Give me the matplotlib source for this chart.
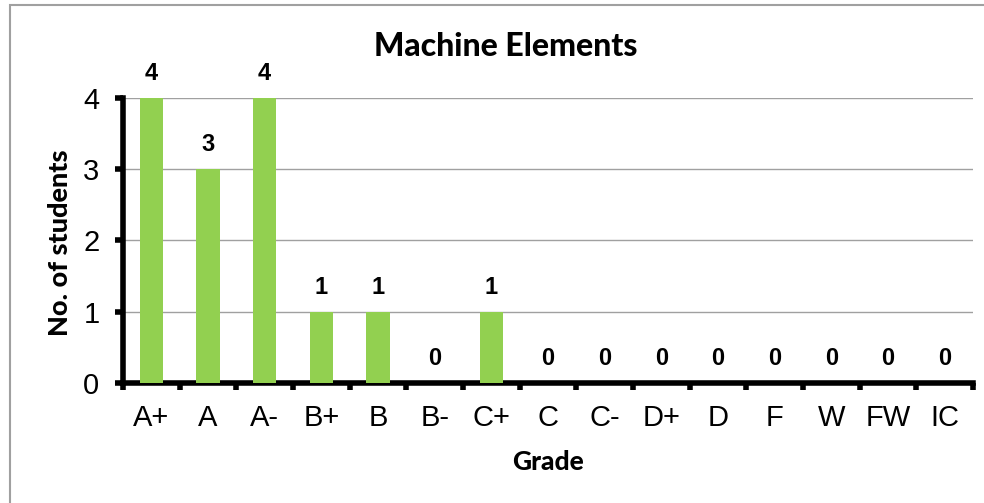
import numpy as np
import matplotlib.pyplot as plt
from matplotlib.patches import Rectangle

plt.rcParams['font.family'] = ['Liberation Sans', 'DejaVu Sans']

grades = ["A+", "A", "A-", "B+", "B", "B-", "C+", "C", "C-", "D+", "D", "F", "W", "FW", "IC"]
students = [4, 3, 4, 1, 1, 0, 1, 0, 0, 0, 0, 0, 0, 0, 0]

fig = plt.figure(figsize=(9.84, 5.03), dpi=100)
ax = fig.add_axes([0.125, 0.2386, 0.8638, 0.5666])

# outer chart frame (only left and top visible)
fig.patches.append(Rectangle((10 / 984, -0.1), 1.2, 1 - 5 / 503 + 0.1, transform=fig.transFigure,
                             fill=False, edgecolor="#a0a0a0", linewidth=1.5))

x = np.arange(len(grades))
ax.bar(x, students, width=0.41, color="#92D050", zorder=3)

for xi, v in zip(x, students):
    ax.annotate(str(v), (xi, v), xytext=(0, 13), textcoords="offset points",
                ha="center", va="baseline", fontsize=17, fontweight="bold")

ax.set_xlim(-0.5, len(grades) - 0.5)
ax.set_ylim(0, 4)
ax.set_yticks([0, 1, 2, 3, 4])
ax.set_yticklabels(["0", "1", "2", "3", "4"], fontsize=21)
ax.set_xticks(x)
ax.set_xticklabels(grades, fontsize=21)
ax.set_xticks(np.arange(-0.5, len(grades), 1), minor=True)
ax.tick_params(axis="x", which="major", length=0, pad=15)
ax.tick_params(axis="x", which="minor", length=5, width=4, direction="out")
ax.tick_params(axis="y", length=6, width=4, direction="out", pad=11)

ax.grid(axis="y", color="#a0a0a0", linewidth=1, zorder=0)
for s in ["top", "right"]:
    ax.spines[s].set_visible(False)
ax.spines["left"].set_linewidth(4)
ax.spines["bottom"].set_linewidth(4)

fig.text(505.5 / 984, 1 - 56 / 503, "Machine Elements", family="Lato", fontsize=23,
         fontweight="black", ha="center", va="baseline")
fig.text(548 / 984, 1 - 462 / 503, "Grade", family="Lato", fontsize=19,
         fontweight="black", ha="center", va="center")
fig.text(60 / 984, 1 - 243 / 503, "No. of students", family="Lato", fontsize=19.5,
         fontweight="black", ha="center", va="center", rotation=90)

fig.savefig("out.png", dpi=100)
